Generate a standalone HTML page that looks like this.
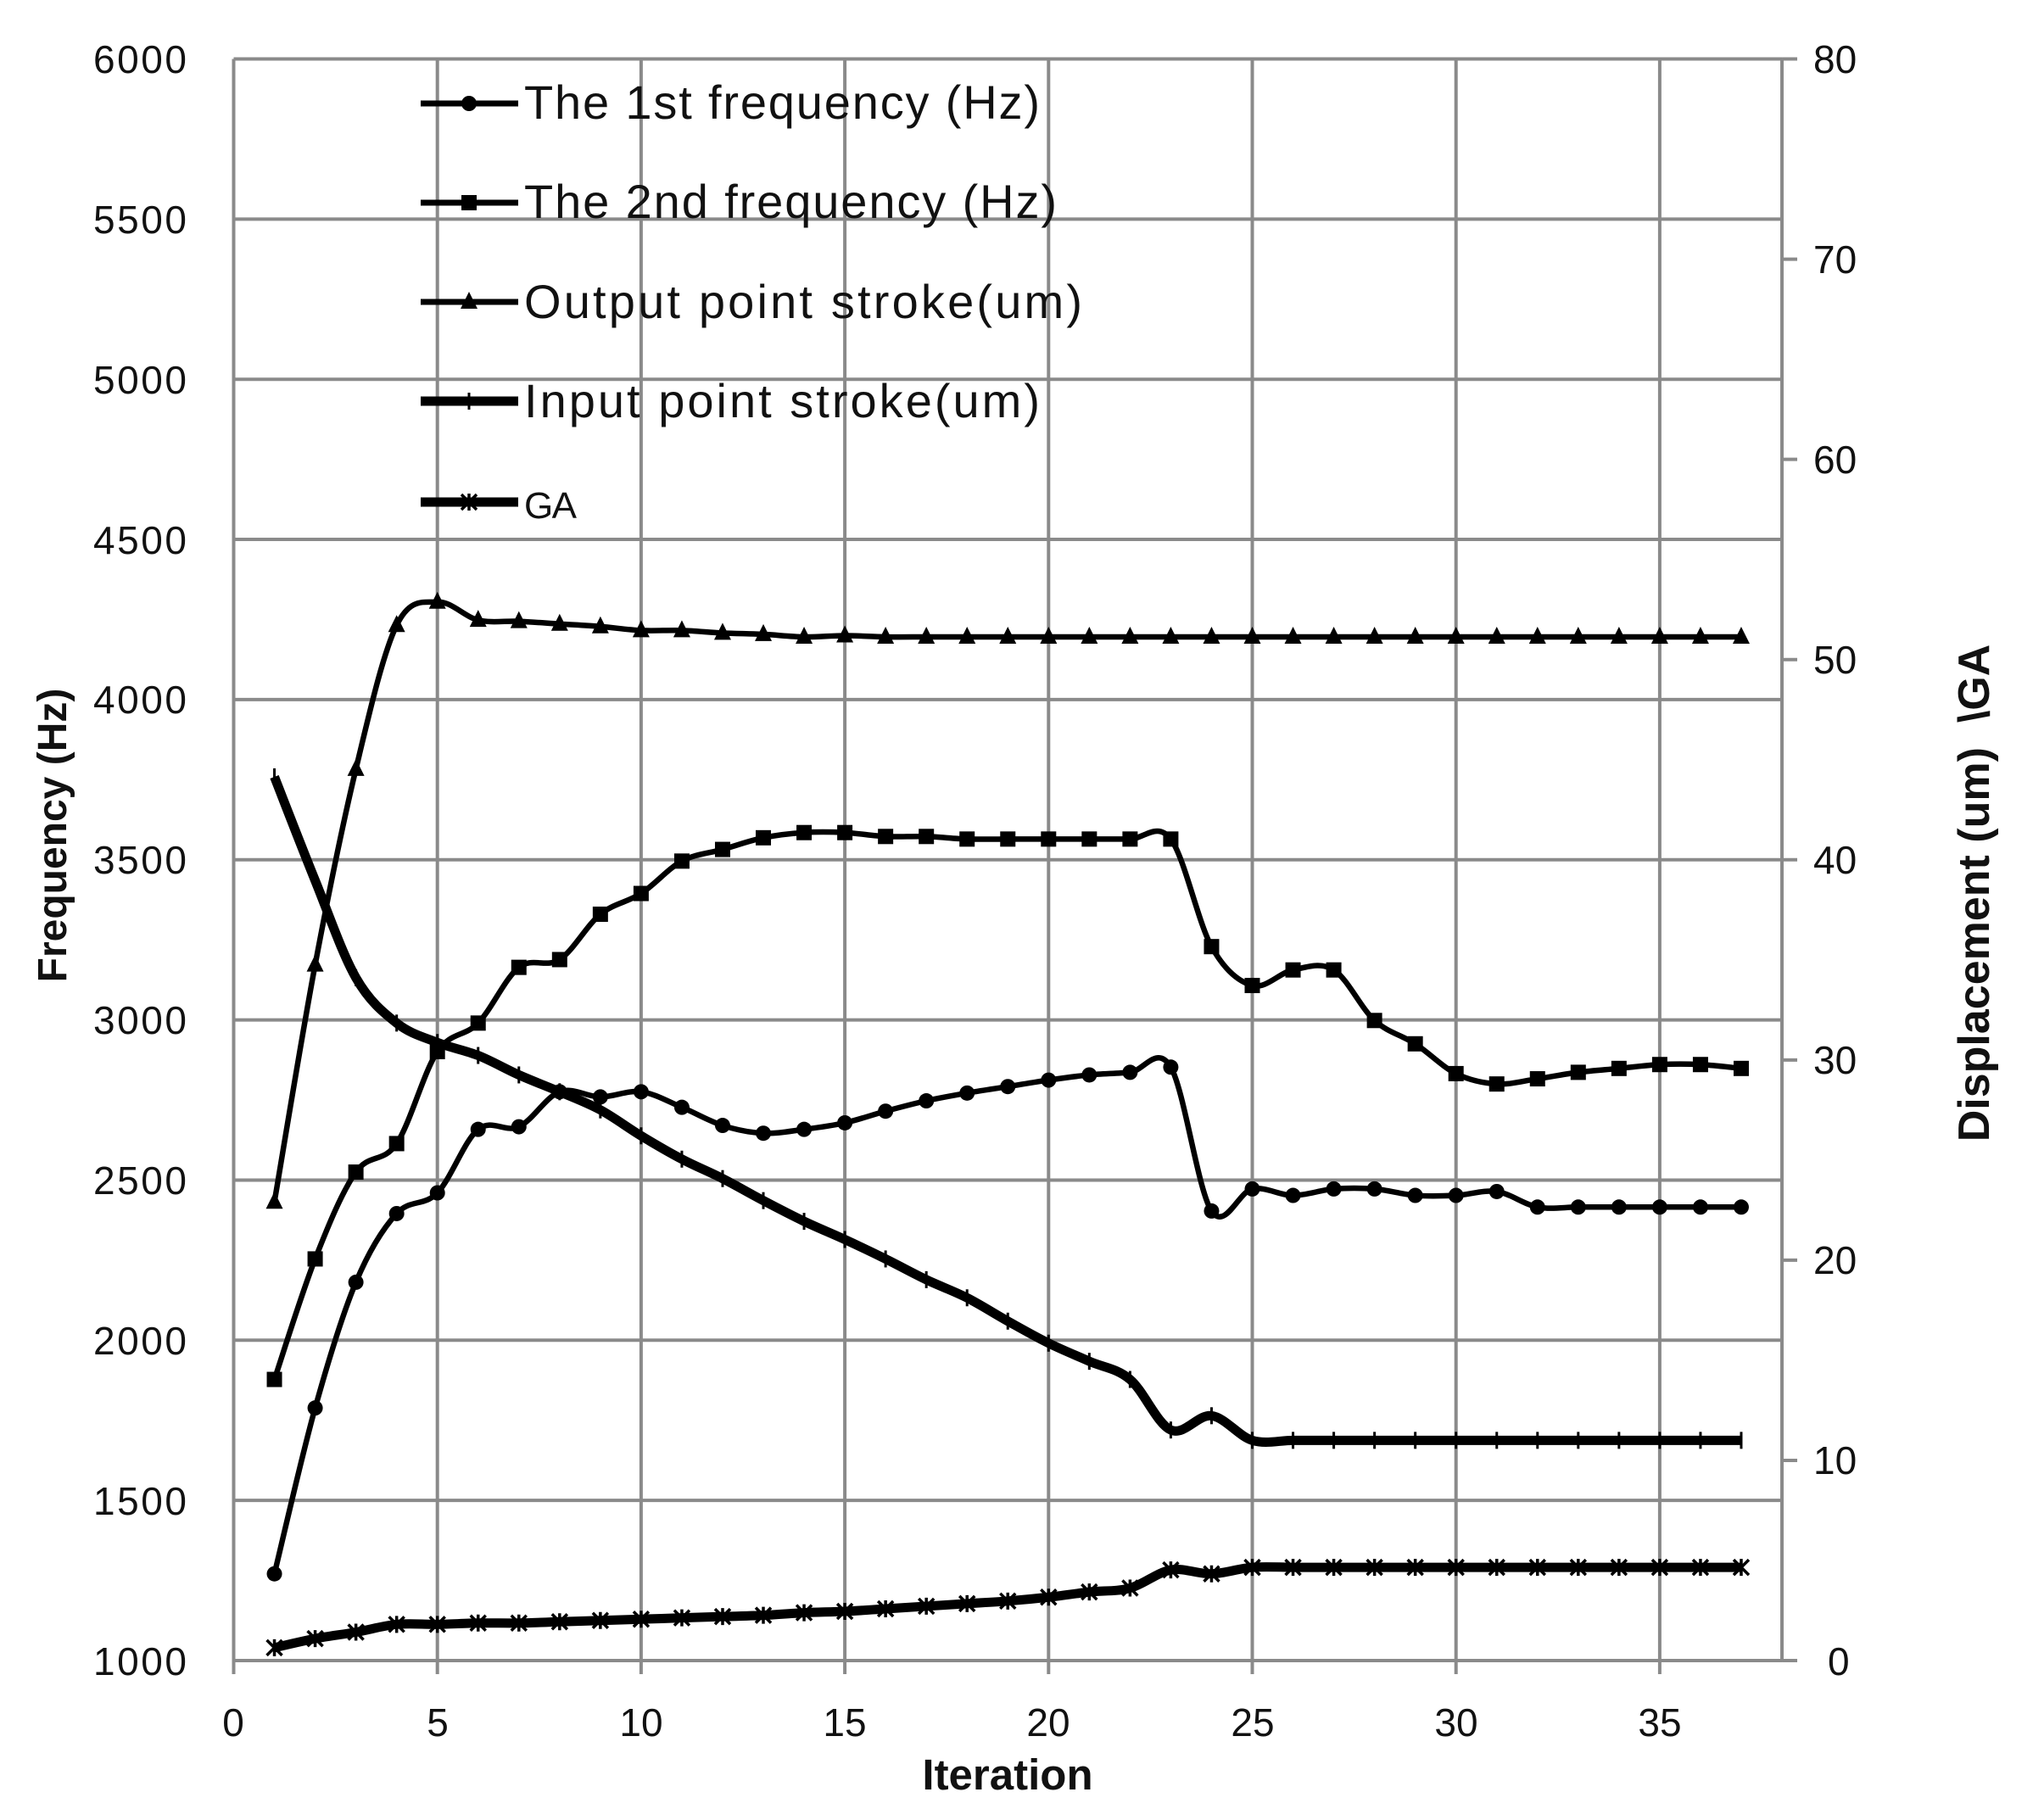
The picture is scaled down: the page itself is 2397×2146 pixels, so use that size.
<!DOCTYPE html>
<html><head><meta charset="utf-8"><style>
html,body{margin:0;padding:0;background:#fff;}
svg{display:block;font-family:"Liberation Sans",sans-serif;}
</style></head><body>
<svg id="s" width="2397" height="2146" viewBox="0 0 2397 2146" xmlns="http://www.w3.org/2000/svg">
<rect width="2397" height="2146" fill="#fff"/>
<g id="grid" stroke="#8a8a8a" stroke-width="4" fill="none"></g>
<g font-size="46" fill="#111" text-anchor="end">
<text x="220" y="86" textLength="110">6000</text>
<text x="220" y="275" textLength="110">5500</text>
<text x="220" y="464" textLength="110">5000</text>
<text x="220" y="653" textLength="110">4500</text>
<text x="220" y="841" textLength="110">4000</text>
<text x="220" y="1030" textLength="110">3500</text>
<text x="220" y="1219" textLength="110">3000</text>
<text x="220" y="1408" textLength="110">2500</text>
<text x="220" y="1597" textLength="110">2000</text>
<text x="220" y="1786" textLength="110">1500</text>
<text x="220" y="1975" textLength="110">1000</text>
</g>
<g font-size="46" fill="#111" text-anchor="start">
<text x="2138" y="86">80</text>
<text x="2138" y="322">70</text>
<text x="2138" y="558">60</text>
<text x="2138" y="794">50</text>
<text x="2138" y="1030">40</text>
<text x="2138" y="1266">30</text>
<text x="2138" y="1502">20</text>
<text x="2138" y="1738">10</text>
<text x="2155" y="1975">0</text>
</g>
<g font-size="46" fill="#111" text-anchor="middle">
<text x="275" y="2047">0</text>
<text x="516" y="2047">5</text>
<text x="756" y="2047">10</text>
<text x="996" y="2047">15</text>
<text x="1236" y="2047">20</text>
<text x="1477" y="2047">25</text>
<text x="1717" y="2047">30</text>
<text x="1957" y="2047">35</text>
</g>
<text x="1188" y="2110" font-size="51" font-weight="bold" text-anchor="middle" fill="#111">Iteration</text>
<text transform="translate(78,985) rotate(-90)" font-size="48" font-weight="bold" text-anchor="middle" fill="#111">Frequency (Hz)</text>
<text transform="translate(2345,1053) rotate(-90)" font-size="52" font-weight="bold" text-anchor="middle" fill="#111" xml:space="preserve">Displacement (um)  \GA</text>
<g id="series"></g>
<g font-size="56" fill="#111">
<text x="618" y="140" textLength="608">The 1st frequency (Hz)</text>
<text x="618" y="257" textLength="628">The 2nd frequency (Hz)</text>
<text x="618" y="375" textLength="658">Output point stroke(um)</text>
<text x="618" y="492" textLength="608">Input point stroke(um)</text>
<text x="618" y="611" font-size="44" textLength="62">GA</text>
</g>
<g id="legend"></g>
</svg>
<script>
var NS="http://www.w3.org/2000/svg";
function el(p,t,a){var e=document.createElementNS(NS,t);for(var k in a)e.setAttribute(k,a[k]);p.appendChild(e);return e;}
var X0=275.5,DX=48.04,Y0=69.5,YB=1958;
function X(i){return X0+i*DX;}
function Yd(yd){return Y0+(yd-46)*1.528;}
var g=document.getElementById('grid');
for(var i=0;i<=35;i+=5){el(g,'line',{x1:X(i),y1:Y0,x2:X(i),y2:YB+16});}
el(g,'line',{x1:X(38),y1:Y0,x2:X(38),y2:YB});
for(var v=0;v<=10;v++){var y=Y0+v*188.85;el(g,'line',{x1:X0,y1:y,x2:X(38),y2:y});}
for(var v=0;v<=8;v++){var y=YB-v*(YB-Y0)/8;el(g,'line',{x1:X(38),y1:y,x2:X(38)+18,y2:y});}
var s1=[1215,1087,990,937,921,872,870,843,847,843,855,869,875,872,867,858,850,844,839,834,830,828,824,935,918,923,918,918,923,923,920,932,932,932,932,932,932];
var s2=[1065,972,905,883,812,790,747,741,706,690,665,656,647,643,643,646,646,648,648,648,648,648,648,731,761,749,749,788,806,829,837,833,828,825,822,822,825];
var s3=[928,745,594,483,465,479,480,482,484,487,487,489,490,492,491,492];while(s3.length<37)s3.push(492);
var s4=[600,680,755,790,805,815,830,843,857,877,895,910,927,943,957,972,988,1002,1020,1037,1051,1065,1104,1093,1112];while(s4.length<37)s4.push(1112);
var s5=[1272,1265,1260,1254,1254,1253,1253,1252,1251,1250,1249,1248,1247,1245,1244,1242,1240,1238,1236,1233,1229,1226,1212,1215,1210];while(s5.length<37)s5.push(1210);
function path(arr){var p=arr.map(function(v,i){return [X(i+1),Yd(v)];});var d='M'+p[0][0]+','+p[0][1];
for(var i=0;i<p.length-1;i++){var a=p[i-1]||p[i],b=p[i],c=p[i+1],e=p[i+2]||c;var t=6;
d+=' C'+(b[0]+(c[0]-a[0])/t)+','+(b[1]+(c[1]-a[1])/t)+' '+(c[0]-(e[0]-b[0])/t)+','+(c[1]-(e[1]-b[1])/t)+' '+c[0]+','+c[1];}return {d:d,p:p};}
var S=document.getElementById('series');
function marker(par,type,x,y){
 if(type=='c')el(par,'circle',{cx:x,cy:y,r:9,fill:'#000'});
 else if(type=='s')el(par,'rect',{x:x-9,y:y-9,width:18,height:18,fill:'#000'});
 else if(type=='t')el(par,'polygon',{points:(x)+','+(y-12)+' '+(x-10)+','+(y+8)+' '+(x+10)+','+(y+8),fill:'#000'});
 else if(type=='p'){el(par,'line',{x1:x,y1:y-10,x2:x,y2:y+10,stroke:'#000','stroke-width':3});}
 else if(type=='x'){el(par,'path',{d:'M'+(x-9)+','+(y-9)+'L'+(x+9)+','+(y+9)+'M'+(x+9)+','+(y-9)+'L'+(x-9)+','+(y+9)+'M'+x+','+(y-10)+'V'+(y+10),stroke:'#000','stroke-width':3.5});}
}
[[s4,11,'p'],[s5,11,'x'],[s3,6.5,'t'],[s2,6.5,'s'],[s1,6.5,'c']].forEach(function(q){
 var r=path(q[0]);el(S,'path',{d:r.d,fill:'none',stroke:'#000','stroke-width':q[1],'stroke-linejoin':'round'});
 r.p.forEach(function(pt){marker(S,q[2],pt[0],pt[1]);});
});
var L=document.getElementById('legend');
[[122,7,'c'],[239,7,'s'],[356,7,'t'],[473,11,'p'],[592,11,'x']].forEach(function(q){
 el(L,'line',{x1:496,y1:q[0],x2:611,y2:q[0],stroke:'#000','stroke-width':q[1]});marker(L,q[2],553,q[0]);
});
</script>
</body></html>
